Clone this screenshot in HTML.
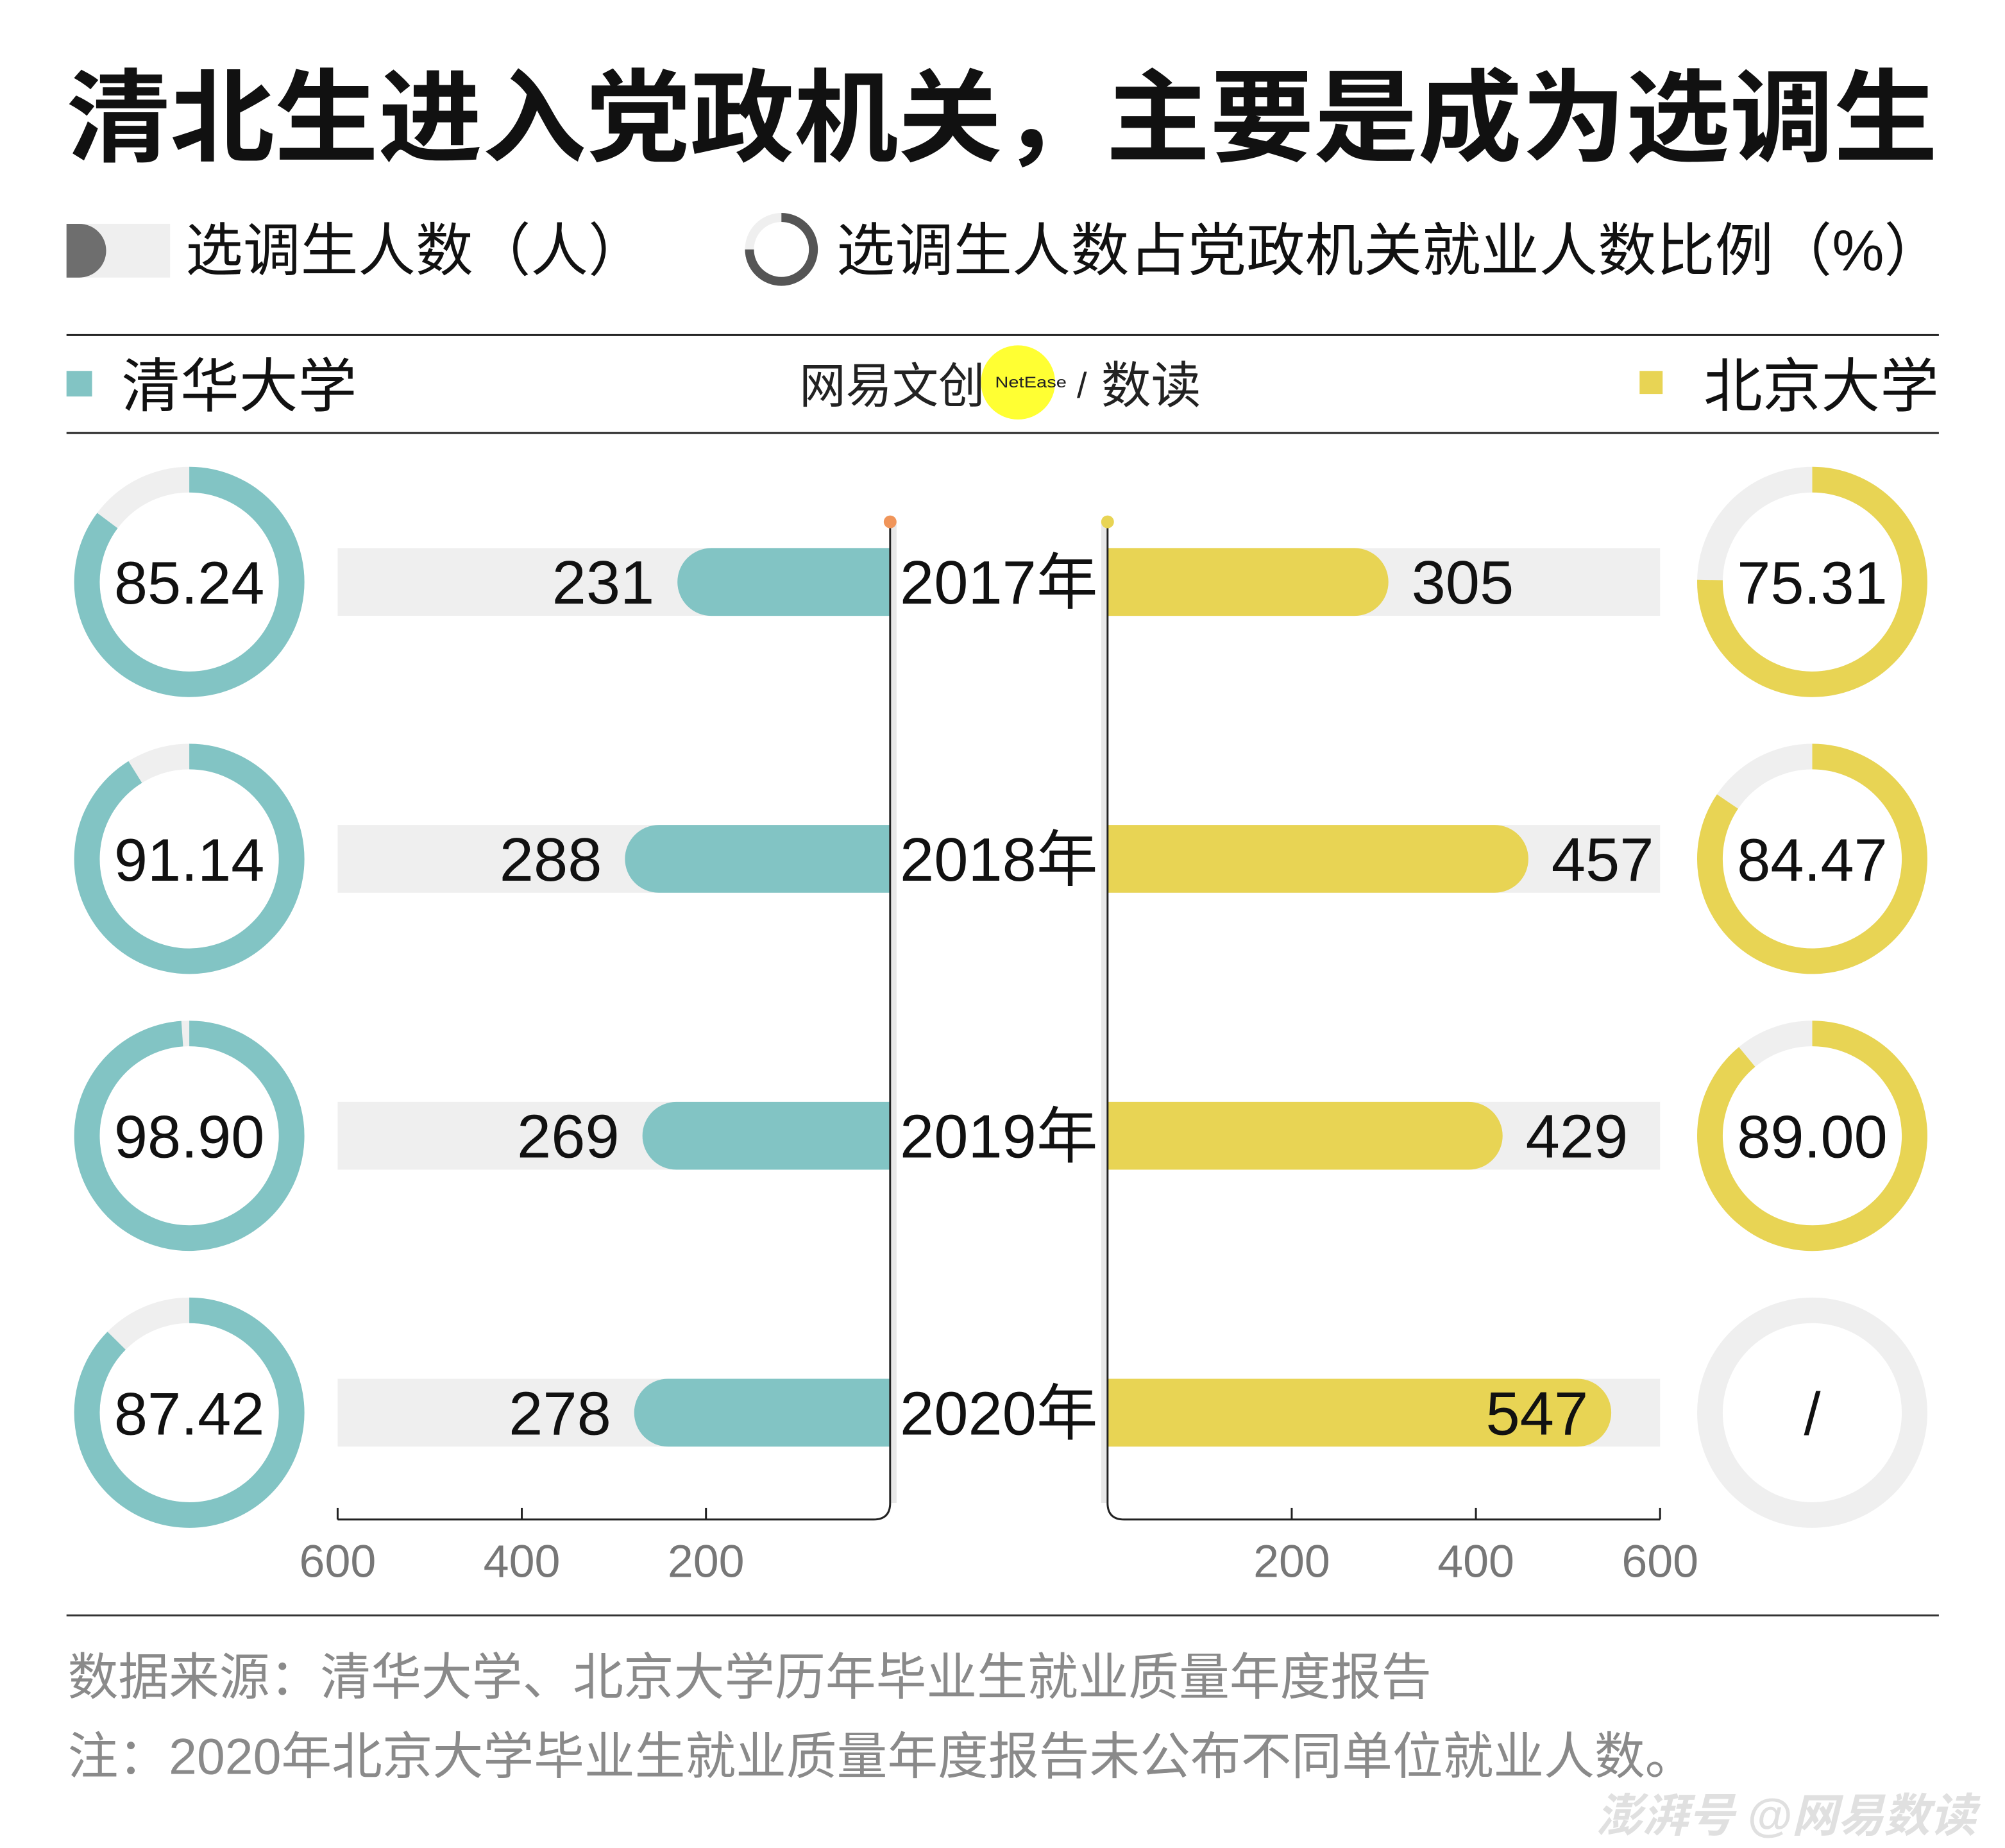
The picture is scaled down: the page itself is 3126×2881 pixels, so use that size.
<!DOCTYPE html>
<html><head><meta charset="utf-8">
<style>
html,body{margin:0;padding:0;background:#fff;}
svg{display:block;}
text{font-family:"Liberation Sans","Noto Sans CJK SC",sans-serif;}
</style></head>
<body>
<svg id="c" width="3126" height="2881" viewBox="0 0 3126 2881" xmlns="http://www.w3.org/2000/svg">
<g transform="scale(0.997)">
<text x="104" y="240" font-size="158" font-weight="bold" fill="#111" textLength="2926" lengthAdjust="spacingAndGlyphs">清北生进入党政机关，主要是成为选调生</text>
<g>
  <rect x="104" y="350" width="162" height="84" fill="#efefef"/>
  <path d="M104,350 h20 a42,42 0 0 1 0,84 h-20 z" fill="#6e6e6e"/>
  <text x="290" y="423" font-size="90" fill="#111">选调生人数（人）</text>
  <circle cx="1222" cy="390" r="50" fill="none" stroke="#efefef" stroke-width="14"/>
  <path d="M1222,340 A50,50 0 1 1 1172,390" fill="none" stroke="#555" stroke-width="14"/>
  <text x="1308" y="423" font-size="90" fill="#111" textLength="1730" lengthAdjust="spacingAndGlyphs">选调生人数占党政机关就业人数比例（%）</text>
</g>
<line x1="104" y1="524" x2="3032" y2="524" stroke="#222" stroke-width="3"/>
<line x1="104" y1="677" x2="3032" y2="677" stroke="#222" stroke-width="3"/>
<rect x="104" y="580" width="40" height="40" fill="#82c4c4"/>
<text x="190" y="636" font-size="92" fill="#111">清华大学</text>
<rect x="2564" y="580" width="36" height="36" fill="#e8d454"/>
<text x="3032" y="636" font-size="92" fill="#111" text-anchor="end">北京大学</text>
<g>
  <circle cx="1592" cy="598" r="58" fill="#ffff33"/>
  <text x="1250" y="630" font-size="76" fill="#222" textLength="290" lengthAdjust="spacingAndGlyphs">网易文创</text>
  <text x="1556" y="606" font-size="24" fill="#222" textLength="112" lengthAdjust="spacingAndGlyphs">NetEase</text>
  <text x="1684" y="622" font-size="56" fill="#222">/</text>
  <text x="1722" y="630" font-size="78" fill="#222">数读</text>
</g>
<g id="plot"></g>
<line x1="104" y1="2526" x2="3032" y2="2526" stroke="#333" stroke-width="3"/>
<text x="106" y="2650" font-size="79" fill="#8a8a8a">数据来源：清华大学、北京大学历年毕业生就业质量年度报告</text>
<text x="106" y="2774" font-size="79" fill="#8a8a8a">注：2020年北京大学毕业生就业质量年度报告未公布不同单位就业人数。</text>
<text x="3090" y="2864" font-size="72" fill="#e0e0e0" font-style="italic" font-weight="bold" text-anchor="end">澎湃号 @网易数读</text>
</g>
</svg>
<script>
const years = ["2017年","2018年","2019年","2020年"];
const thuCount = [231,288,269,278];
const pkuCount = [305,457,429,547];
const thuPct = [85.24,91.14,98.90,87.42];
const pkuPct = [75.31,84.47,89.00,null];
const ticks = [200,400,600];

const NS="http://www.w3.org/2000/svg";
const plot=document.getElementById('plot');
function el(t,a,p){const e=document.createElementNS(NS,t);for(const k in a)e.setAttribute(k,a[k]);(p||plot).appendChild(e);return e;}
const L0=1392,R0=1732,K=864/600;
const xl=v=>L0-v*K, xr=v=>R0+v*K;
const rowY=i=>910+i*433;
const BH=106;
const TEAL="#82c4c4",YEL="#e8d454",BG="#efefef";

let a=el('path',{d:`M${L0+6},816 V2350`,stroke:"#e8e8e8","stroke-width":8,fill:"none"});

a=el('path',{d:`M${R0-6},816 V2350`,stroke:"#e8e8e8","stroke-width":8,fill:"none"});

years.forEach((y,i)=>{
  const cy=rowY(i);
  let r=el('rect',{x:xl(600),y:cy-BH/2,width:L0-xl(600),height:BH,fill:BG});
  
  r=el('rect',{x:R0,y:cy-BH/2,width:xr(600)-R0,height:BH,fill:BG});
  
  const lx=xl(thuCount[i]);
  let b=el('path',{d:`M${L0},${cy-BH/2} H${lx+BH/2} a${BH/2},${BH/2} 0 0 0 0,${BH} H${L0} Z`,fill:TEAL});
  
  const rx=xr(pkuCount[i]);
  b=el('path',{d:`M${R0},${cy-BH/2} H${rx-BH/2} a${BH/2},${BH/2} 0 0 1 0,${BH} H${R0} Z`,fill:YEL});
  
  let t=el('text',{x:lx-36,y:cy+34,"font-size":96,fill:"#111","text-anchor":"end"});t.textContent=thuCount[i];
  
  const inside=pkuCount[i]>500;
  t=el('text',{x:inside?rx-36:rx+36,y:cy+34,"font-size":96,fill:"#111","text-anchor":inside?"end":"start"});t.textContent=pkuCount[i];
  
  t=el('text',{x:1562,y:cy+34,"font-size":96,fill:"#111","text-anchor":"middle"});t.textContent=y;
  
  [[296,thuPct[i],TEAL,'thu'],[2834,pkuPct[i],YEL,'pku']].forEach(([cx,p,c,n])=>{
    const R=160;
    let g=el('circle',{cx:cx,cy:cy,r:R,fill:"none",stroke:BG,"stroke-width":40});
    
    if(p!==null){
      const ang=p/100*2*Math.PI;
      const ex=cx+R*Math.sin(ang), ey=cy-R*Math.cos(ang);
      g=el('path',{d:`M${cx},${cy-R} A${R},${R} 0 ${p>50?1:0} 1 ${ex},${ey}`,fill:"none",stroke:c,"stroke-width":40});
      
    }
    t=el('text',{x:cx,y:cy+34,"font-size":94,fill:"#111","text-anchor":"middle"});
    t.textContent=p===null?"/":p.toFixed(2);
    
  });
});
a=el('path',{d:`M${L0},816 V2350 q0,26 -26,26 H${xl(600)}`,stroke:"#222","stroke-width":3,fill:"none"});

a=el('path',{d:`M${R0},816 V2350 q0,26 26,26 H${xr(600)}`,stroke:"#222","stroke-width":3,fill:"none"});

let d=el('circle',{cx:L0,cy:816,r:10,fill:"#f0955a"});

d=el('circle',{cx:R0,cy:816,r:10,fill:YEL});

ticks.forEach(v=>{
  [[xl(v),'left'],[xr(v),'right']].forEach(([x,s])=>{
    let l=el('line',{x1:x,y1:2358,x2:x,y2:2376,stroke:"#222","stroke-width":3});
    
    let t=el('text',{x:x,y:2466,"font-size":72,fill:"#777","text-anchor":"middle"});t.textContent=v;
    
  });
});
</script>
</body></html>
